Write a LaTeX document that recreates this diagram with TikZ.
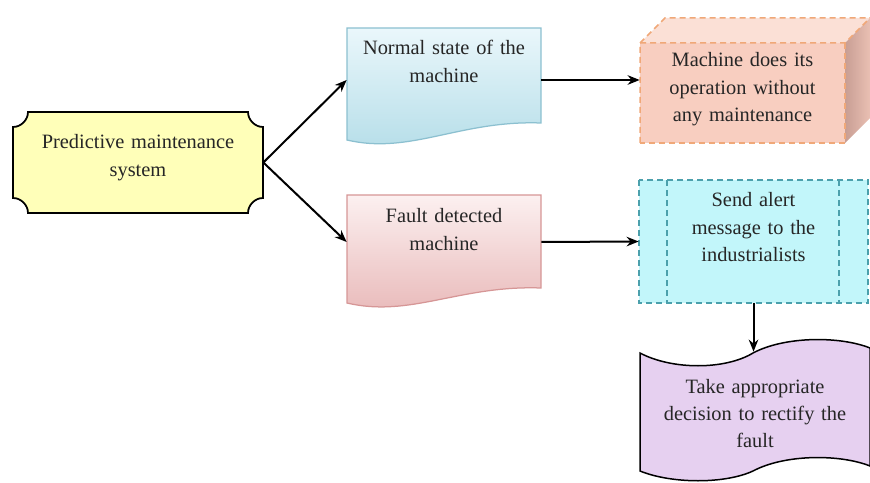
\documentclass[tikz,border=0pt]{standalone}
\usepackage{fontspec}
\setmainfont{Liberation Serif}
\usetikzlibrary{arrows.meta}

\definecolor{pmfill}{RGB}{255,255,185}
\definecolor{normtop}{RGB}{234,247,251}
\definecolor{normbot}{RGB}{180,221,232}
\definecolor{normline}{RGB}{140,192,208}
\definecolor{faulttop}{RGB}{252,240,240}
\definecolor{faultbot}{RGB}{232,184,184}
\definecolor{faultline}{RGB}{214,150,150}
\definecolor{machfront}{RGB}{248,206,192}
\definecolor{machtop}{RGB}{251,224,214}
\definecolor{machside}{RGB}{200,158,148}
\definecolor{machline}{RGB}{240,168,120}
\definecolor{alertfill}{RGB}{194,246,250}
\definecolor{alertline}{RGB}{75,160,172}
\definecolor{takefill}{RGB}{230,208,240}

\tikzset{
  txtbox/.style={inner sep=0pt, align=center, text=black!85,
    font=\fontsize{11.6}{15.4}\selectfont},
  arr/.style={-{Stealth[length=2.4mm,width=1.9mm]}, line width=0.4mm},
  dashbox/.style={dash pattern=on 1.2mm off 0.8mm, line width=0.3mm}
}

\begin{document}
\begin{tikzpicture}[x=0.2mm, y=-0.2mm]
  \useasboundingbox (0,0) rectangle (870,483);

  % shapes
  \draw[line width=0.35mm, fill=pmfill] (28,112) -- (248,112)
    .. controls (248,120) and (255,127) .. (263,127) -- (263,198)
    .. controls (255,198) and (248,205) .. (248,213) -- (28,213)
    .. controls (28,205) and (21,198) .. (13,198) -- (13,127)
    .. controls (21,127) and (28,120) .. (28,112) -- cycle;
  \shadedraw[top color=normtop, bottom color=normbot, draw=normline, line width=0.25mm]
    (347,28) -- (541,28) -- (541,123) .. controls (460,120) and (410,155) .. (347,140) -- cycle;
  \shadedraw[top color=faulttop, bottom color=faultbot, draw=faultline, line width=0.25mm]
    (347,195) -- (541,195) -- (541,288) .. controls (460,285) and (410,318) .. (347,303) -- cycle;
  \fill[machtop] (640,43) -- (665,18) -- (870,18) -- (845,43) -- cycle;
  \shade[left color=machside, right color=machfront!70!machside]
    (845,43) -- (870,18) -- (870,118) -- (845,143) -- cycle;
  \fill[machfront] (640,43) rectangle (845,143);
  \draw[dashbox, machline] (640,143) -- (640,43) -- (665,18) -- (870,18);
  \draw[dashbox, machline] (640,43) -- (845,43) -- (870,18);
  \draw[dashbox, machline] (845,43) -- (845,143) -- (640,143);
  \draw[dashbox, draw=alertline, fill=alertfill] (639,180) rectangle (868,303);
  \draw[dashbox, alertline] (667,180) -- (667,303);
  \draw[dashbox, alertline] (839,180) -- (839,303);
  \draw[line width=0.3mm, fill=takefill] (640,353)
    .. controls (672,370) and (725,370) .. (753,353)
    .. controls (785,336) and (840,336) .. (870,348) -- (870,466)
    .. controls (840,454) and (785,454) .. (753,471)
    .. controls (725,484) and (672,484) .. (640,471) -- cycle;

  % texts
  \node[txtbox, text width=50mm, text height=7.4mm, text depth=12.8mm] (pm) at (138,162.5)
    {Predictive maintenance\\system};
  \node[txtbox, text width=38.8mm, text height=5.4mm, text depth=15.4mm] (normal) at (444,80)
    {Normal state of the\\machine};
  \node[txtbox, text width=38.8mm, text height=5.6mm, text depth=13.2mm] (fault) at (444,242)
    {Fault detected\\machine};
  \node[txtbox, text width=41mm, text height=4.8mm, text depth=15.2mm] (machine) at (742.5,93)
    {Machine does its\\operation without\\any maintenance};
  \node[txtbox, text width=45.8mm, text height=5.4mm, text depth=19.2mm] (alert) at (753.5,241.5)
    {Send alert\\message to the\\industrialists};
  \node[txtbox, text width=46mm, text height=8.2mm, text depth=15.6mm] (take) at (755,411.5)
    {Take appropriate\\decision to rectify the\\fault};

  % arrows
  \draw[arr] (pm.east) -- (normal.west);
  \draw[arr] (pm.east) -- (fault.west);
  \draw[arr] (normal.east) -- (normal.east -| machine.west);
  \draw[arr] (fault.east) -- (alert.west);
  \draw[arr] (alert.south) -- (alert.south |- take.north);
\end{tikzpicture}
\end{document}
